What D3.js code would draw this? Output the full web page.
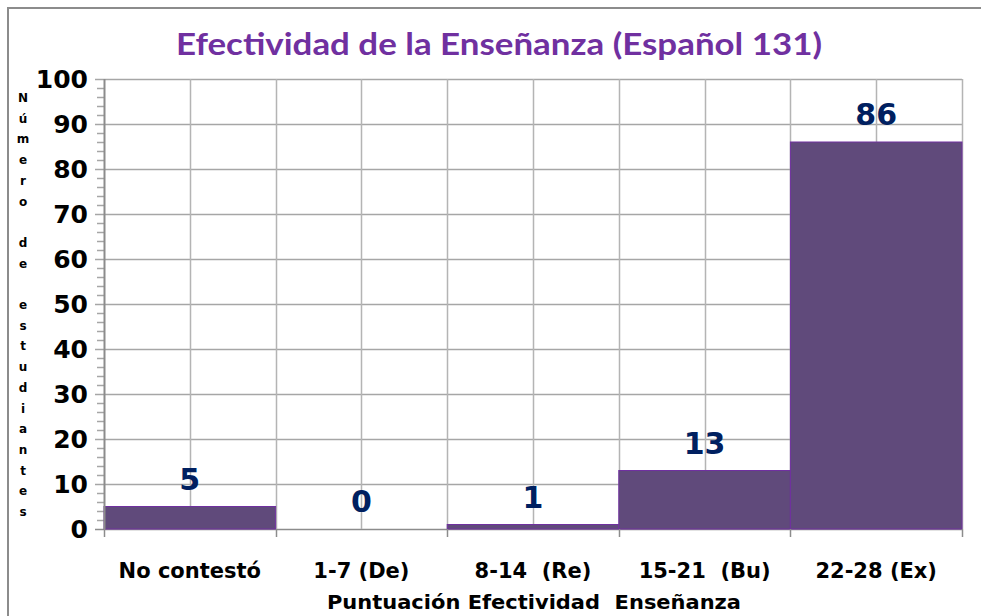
<!DOCTYPE html>
<html>
<head>
<meta charset="utf-8">
<script src="https://cdnjs.cloudflare.com/ajax/libs/d3/7.8.5/d3.min.js"></script>
<style>
  body { margin: 0; background: #fff; }
</style>
</head>
<body>
<div id="chart"></div>
<script>
var categories = ["No contestó", "1-7 (De)", "8-14  (Re)", "15-21  (Bu)", "22-28 (Ex)"]
var values = [5, 0, 1, 13, 86]
var yTicks = [0, 10, 20, 30, 40, 50, 60, 70, 80, 90, 100]
var yLabelLetters = ["N","ú","m","e","r","o","","d","e","","e","s","t","u","d","i","a","n","t","e","s"]

var svgWidth = 981
var svgHeight = 616
var margin = { top: 79, right: 19, bottom: 87, left: 104 }
var width = svgWidth - margin.left - margin.right
var height = svgHeight - margin.top - margin.bottom

var svg = d3.select("#chart").append("svg")
    .attr("width", svgWidth)
    .attr("height", svgHeight)
    .style("font-family", "'DejaVu Sans', Verdana, sans-serif")

// outer frame (only top and left show)
svg.append("path")
    .attr("d", "M8,616 L8,8 L981,8")
    .attr("fill", "none")
    .attr("stroke", "#8c8c8c")
    .attr("stroke-width", 2)

var chart = svg.append("g")
    .attr("transform", "translate(" + margin.left + "," + margin.top + ")")

var x = d3.scaleBand()
    .range([0, width])
    .domain(categories)
    .padding(0)

var y = d3.scaleLinear()
    .range([height, 0])
    .domain([0, 100])

// horizontal gridlines
chart.append("g").selectAll("line").data(yTicks)
    .enter().append("line")
    .attr("x1", -9).attr("x2", width)
    .attr("y1", function(d) { return Math.round(y(d)) + 0.5 })
    .attr("y2", function(d) { return Math.round(y(d)) + 0.5 })
    .attr("stroke", function(d) { return d === 0 ? "#8c8c8c" : "#a6a6a6" })
    .attr("stroke-width", 1.5)

// minor ticks on the y axis
var minor = d3.range(0, 101, 2).filter(function(d) { return d % 10 !== 0 })
chart.append("g").selectAll("line").data(minor)
    .enter().append("line")
    .attr("x1", -7).attr("x2", 0)
    .attr("y1", function(d) { return Math.round(y(d)) + 0.5 })
    .attr("y2", function(d) { return Math.round(y(d)) + 0.5 })
    .attr("stroke", "#a6a6a6")
    .attr("stroke-width", 1.5)

// vertical gridlines at band edges and centres
var vLines = []
categories.forEach(function(c) {
    vLines.push(x(c) + x.bandwidth() / 2)
    vLines.push(x(c) + x.bandwidth())
})
chart.append("g").selectAll("line").data(vLines)
    .enter().append("line")
    .attr("x1", function(d) { return Math.round(d) + 0.5 })
    .attr("x2", function(d) { return Math.round(d) + 0.5 })
    .attr("y1", 0).attr("y2", height)
    .attr("stroke", "#b4b4b4")
    .attr("stroke-width", 1.5)

// bars
chart.selectAll("rect.bar").data(values)
    .enter().append("rect").attr("class", "bar")
    .attr("x", function(d, i) { return x(categories[i]) })
    .attr("width", x.bandwidth())
    .attr("y", function(d) { return y(d) })
    .attr("height", function(d) { return height - y(d) })
    .attr("fill", "#604a7b")
    .attr("stroke", function(d) { return d > 0 ? "#7030a0" : "none" })
    .attr("stroke-width", 1)

// y axis line
chart.append("line")
    .attr("x1", 0.5).attr("x2", 0.5)
    .attr("y1", 0).attr("y2", height)
    .attr("stroke", "#8c8c8c")
    .attr("stroke-width", 2)

// x axis ticks at band edges
var edges = categories.map(function(c) { return x(c) }).concat([width])
chart.append("g").selectAll("line").data(edges)
    .enter().append("line")
    .attr("x1", function(d) { return Math.round(d) + 0.5 })
    .attr("x2", function(d) { return Math.round(d) + 0.5 })
    .attr("y1", height).attr("y2", height + 8)
    .attr("stroke", "#8c8c8c")
    .attr("stroke-width", 1.5)

// y tick labels
chart.append("g").selectAll("text").data(yTicks)
    .enter().append("text")
    .attr("x", -16)
    .attr("y", function(d) { return y(d) })
    .attr("dy", "0.36em")
    .attr("text-anchor", "end")
    .style("font-size", "25px")
    .style("font-weight", "bold")
    .text(function(d) { return d })

// value labels
chart.selectAll("text.value").data(values)
    .enter().append("text").attr("class", "value")
    .attr("x", function(d, i) { return x(categories[i]) + x.bandwidth() / 2 })
    .attr("y", function(d) { return y(d) - 17 })
    .attr("text-anchor", "middle")
    .style("font-size", "30px")
    .style("font-weight", "bold")
    .style("fill", "#002060")
    .text(function(d) { return d })

// category labels
chart.selectAll("text.cat").data(categories)
    .enter().append("text").attr("class", "cat")
    .attr("x", function(d) { return x(d) + x.bandwidth() / 2 })
    .attr("y", height + 49)
    .attr("text-anchor", "middle")
    .style("font-size", "21px")
    .style("font-weight", "bold")
    .style("white-space", "pre")
    .text(function(d) { return d })

// x axis title
svg.append("text")
    .attr("x", 534)
    .attr("y", 609)
    .attr("text-anchor", "middle")
    .style("font-size", "19px")
    .style("font-weight", "bold")
    .style("white-space", "pre")
    .attr("textLength", 414)
    .attr("lengthAdjust", "spacingAndGlyphs")
    .text("Puntuación Efectividad  Enseñanza")

// stacked y axis title
svg.append("g").selectAll("text").data(yLabelLetters)
    .enter().append("text")
    .attr("x", 23)
    .attr("y", function(d, i) { return 102 + i * 20.7 })
    .attr("text-anchor", "middle")
    .style("font-size", "12px")
    .style("font-weight", "bold")
    .text(function(d) { return d })

// title
svg.append("text")
    .attr("x", 499)
    .attr("y", 55)
    .attr("text-anchor", "middle")
    .style("font-family", "Lato, 'Open Sans', sans-serif")
    .style("font-size", "31px")
    .style("font-weight", "bold")
    .style("fill", "#7030a0")
    .attr("textLength", 646)
    .attr("lengthAdjust", "spacingAndGlyphs")
    .text("Efectividad de la Enseñanza (Español 131)")
</script>
</body>
</html>
